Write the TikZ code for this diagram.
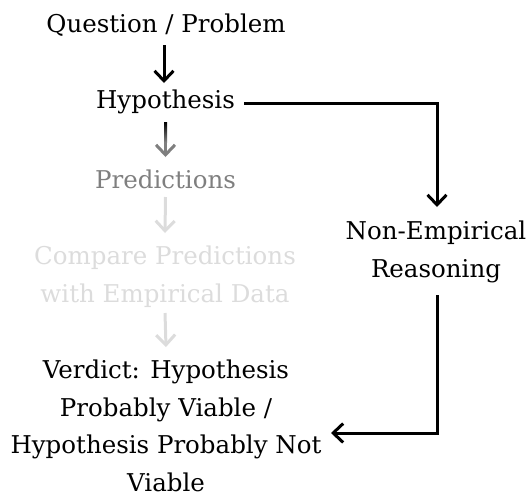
\documentclass[tikz,border=0pt]{standalone}
\usepackage{fontspec}
\setmainfont{DejaVu Serif}
\usetikzlibrary{arrows.meta,calc}
\definecolor{midgray}{HTML}{7F7F7F}
\definecolor{lightgray}{HTML}{DCDCDC}
\begin{document}
\begin{tikzpicture}[x=1pt,y=-1pt,
  lbl/.style={anchor=base,inner sep=0pt,align=center,font=\fontsize{24.5}{37.5}\selectfont},
  arr/.style={line width=3pt,-{Straight Barb[length=10pt,width=19pt,line width=3pt]}},
  conn/.style={line width=3pt}]
\useasboundingbox (0,0) rectangle (530,499);
\node[lbl] (q) at (166,32) {Question / Problem};
\node[lbl] (hyp) at (165.5,108) {Hypothesis};
\node[lbl,text=midgray] (pred) at (165.5,188) {Predictions};
\node[lbl,text=lightgray] (cmp) at (165,302) {Compare Predictions\\with Empirical Data};
\node[lbl] (ver) at (166,491) {Verdict: Hypothesis\\Probably Viable /\\Hypothesis Probably Not\\Viable};
\node[lbl] (ne) at (436,277) {Non-Empirical\\Reasoning};
\coordinate (corner1) at (437,103);
\coordinate (corner2) at (437,433);
% arrows
\draw[arr] ($(q.base)+(-2,13)$) -- ($(hyp.base)+(-1.5,-25)$);
\draw[arr,draw=midgray] ($(pred.base)+(0,-66)$) -- ($(pred.base)+(0,-31)$);
\shade[top color=black,bottom color=midgray] ($(pred.base)+(-1.5,-66)$) rectangle ($(pred.base)+(1.5,-46)$);
\draw[arr,draw=lightgray] ($(pred.base)+(0,9)$) -- ($(cmp.base)+(0,-69)$);
\draw[arr,draw=lightgray] ($(cmp.base)+(0,11)$) -- ($(ver.base)+(0,-144)$);
\draw[arr] ($(hyp.base)+(78.5,-5)$) -- (corner1) -- ($(ne.base)+(1,-70)$);
\draw[arr] ($(ne.base)+(1,18)$) -- (corner2) -- ($(ver.base)+(165,-58)$);
\end{tikzpicture}
\end{document}
